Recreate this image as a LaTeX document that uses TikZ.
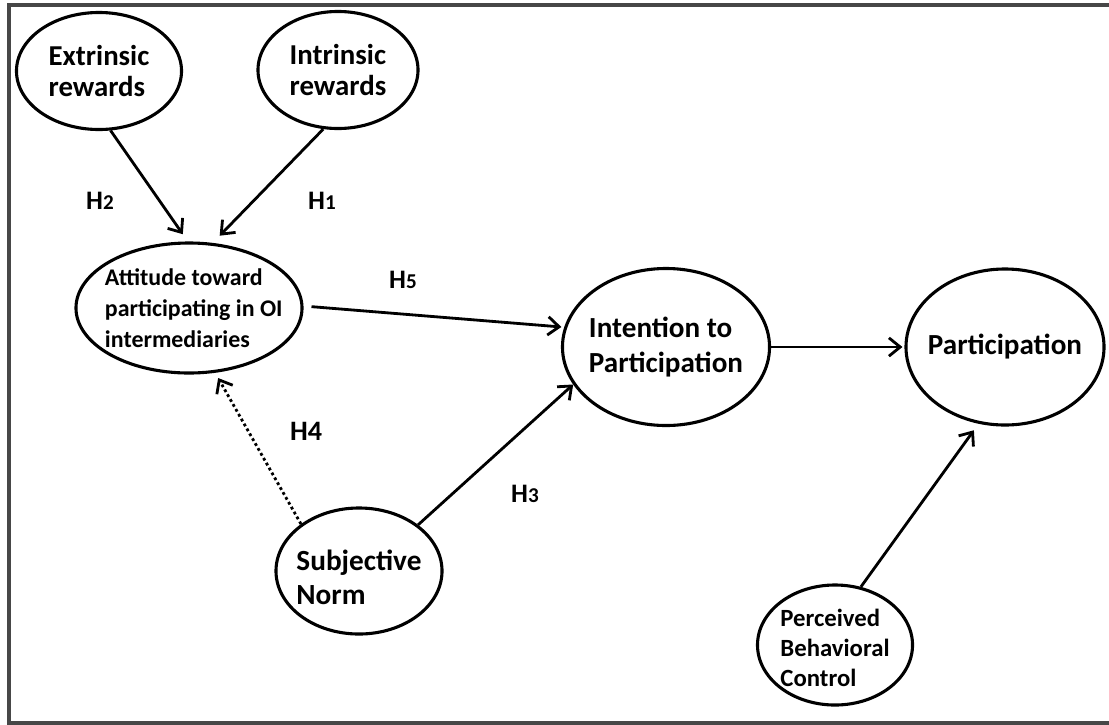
\documentclass[tikz,border=0pt]{standalone}
\usepackage{fontspec}
\setmainfont{Carlito}
\usetikzlibrary{shapes.geometric, arrows.meta}
\newcommand{\hsub}[1]{{\fontsize{15pt}{15pt}\selectfont #1}}

\begin{document}
\begin{tikzpicture}[x=0.025cm, y=-0.025cm,
  ovalnode/.style={ellipse, draw=black, line width=2.2pt, inner sep=0pt},
  ovaltext/.style={align=left, inner sep=0pt},
  hlabel/.style={font=\bfseries\fontsize{19pt}{19pt}\selectfont},
  link/.style={line width=2pt, -{Straight Barb[length=8pt, width=13pt]}}]
\useasboundingbox (0, 0) rectangle (1109, 724);
\draw[draw=black!72, line width=2.4pt] (1115, 5) -- (9, 5) -- (9, 723) -- (1115, 723);
%constructs
\node[ovalnode, minimum width=4.125cm, minimum height=2.925cm, label={[ovaltext, font=\bfseries\fontsize{20.5pt}{22.5pt}\selectfont]center:Extrinsic\\rewards}] at (99, 71) (extr) {};
\node[ovalnode, minimum width=4.0cm, minimum height=2.925cm, label={[ovaltext, font=\bfseries\fontsize{20.5pt}{22.5pt}\selectfont]center:Intrinsic\\rewards}] at (338, 70) (intr) {};
\node[ovalnode, minimum width=5.65cm, minimum height=3.25cm, label={[ovaltext, font=\bfseries\fontsize{17pt}{22pt}\selectfont, xshift=0.12cm]center:Attitude toward\\participating in OI\\intermediaries}] at (189, 308) (att) {};
\node[ovalnode, minimum width=5.175cm, minimum height=3.925cm, label={[ovaltext, font=\bfseries\fontsize{20.7pt}{24.9pt}\selectfont]center:Intention to\\Participation}] at (666, 347) (intn) {};
\node[ovalnode, minimum width=4.95cm, minimum height=3.9cm, label={[ovaltext, font=\bfseries\fontsize{20.7pt}{24pt}\selectfont]center:Participation}] at (1005, 347) (part) {};
\node[ovalnode, minimum width=4.15cm, minimum height=3.15cm, label={[ovaltext, font=\bfseries\fontsize{20.8pt}{24pt}\selectfont, yshift=-0.15cm]center:Subjective\\Norm}] at (359, 571) (subj) {};
\node[ovalnode, minimum width=3.875cm, minimum height=3.0cm, label={[ovaltext, font=\bfseries\fontsize{17.6pt}{21.3pt}\selectfont, yshift=-0.08cm]center:Perceived\\Behavioral\\Control}] at (835, 645) (pbc) {};
%paths
\draw[link, shorten >=0.22cm] (extr.-79) -- (att.91);
\draw[link, shorten >=0.25cm] (intr.-104) -- (att.70);
\draw[link, shorten <=0.2cm, shorten >=0.07cm] (att.1) -- (intn.169);
\draw[link] (subj.38) -- (intn.202);
\draw[link, dotted, shorten >=0.15cm] (subj.141) -- (att.-68);
\draw[link, shorten >=0.05cm] (intn.0) -- (part.180);
\draw[link, shorten >=0.2cm] (pbc.66.7) -- (part.251.4);
%hypotheses
\node[hlabel] at (100, 201) (h2) {H\hsub{2}};
\node[hlabel] at (322, 201) (h1) {H\hsub{1}};
\node[hlabel] at (403, 280) (h5) {H\hsub{5}};
\node[hlabel, font=\bfseries\fontsize{20pt}{20pt}\selectfont] at (306, 431) (h4) {H4};
\node[hlabel] at (525, 494) (h3) {H\hsub{3}};
\end{tikzpicture}
\end{document}
